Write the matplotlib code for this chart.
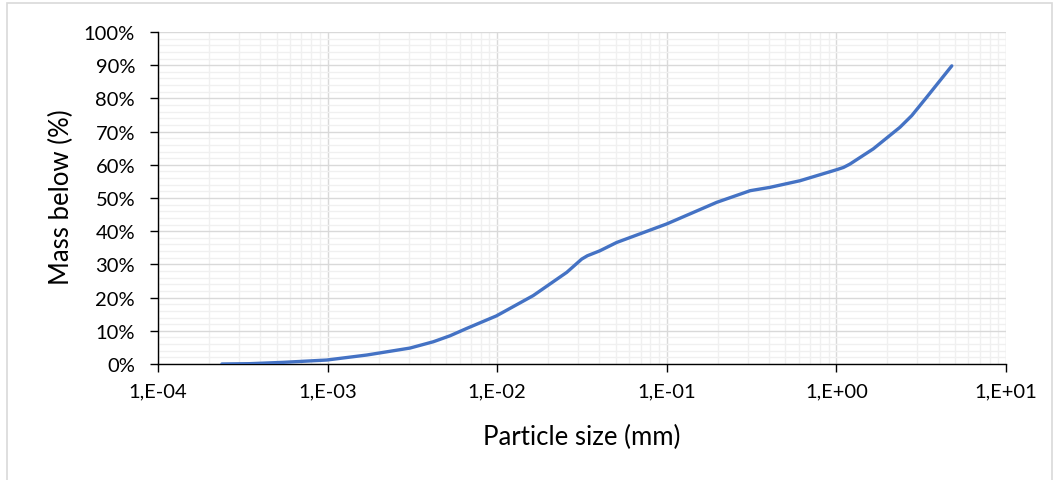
import matplotlib.pyplot as plt
import matplotlib.ticker as tck
from matplotlib.patches import Rectangle
import numpy as np

# particle size distribution
size_mm = [2.38e-4, 3.48e-4, 5.48e-4, 9.9e-4, 1.7e-3, 3.06e-3, 4.2e-3, 5.27e-3,
           6.6e-3, 9.9e-3, 0.0163, 0.0257, 0.0315, 0.034, 0.0403, 0.0506, 0.1,
           0.197, 0.31, 0.405, 0.61, 1.0, 1.1, 1.2, 1.65, 2.37, 2.78, 3.40, 4.79]
mass_below = [0.0, 0.1, 0.5, 1.2, 2.7, 4.8, 6.7, 8.5,
              10.7, 14.5, 20.6, 27.6, 31.6, 32.6, 34.1, 36.6, 42.2,
              48.7, 52.2, 53.2, 55.2, 58.5, 59.2, 60.2, 64.8, 71.3, 74.8, 80.3, 89.8]

x_label = 'Particle size (mm)'
y_label = 'Mass below (%)'

plt.rcParams['font.family'] = ['Lato', 'DejaVu Sans']

W, H = 1058, 481
fig = plt.figure(figsize=(W / 100, H / 100), dpi=100)
ax = fig.add_axes([158 / W, 1 - 365 / H, 848 / W, 332 / H])

ax.plot(size_mm, mass_below, color='#4472C4', lw=2.4, solid_capstyle='round', zorder=3)

ax.set_xscale('log')
ax.set_xlim(1e-4, 1e1)
ax.set_ylim(0, 100)

ax.xaxis.set_major_locator(tck.LogLocator(base=10, numticks=10))
ax.xaxis.set_minor_locator(tck.LogLocator(base=10, subs=np.arange(2, 10), numticks=20))
ax.xaxis.set_major_formatter(tck.FuncFormatter(lambda v, p: '1,E{:+03d}'.format(int(round(np.log10(v))))))
ax.xaxis.set_minor_formatter(tck.NullFormatter())
ax.yaxis.set_major_locator(tck.MultipleLocator(10))
ax.yaxis.set_minor_locator(tck.MultipleLocator(2))
ax.yaxis.set_major_formatter(tck.FuncFormatter(lambda v, p: '{:d}%'.format(int(round(v)))))

ax.grid(which='major', color='#d9d9d9', lw=1.0, zorder=1)
ax.grid(which='minor', color='#f0f0f0', lw=1.0, zorder=0)
ax.set_axisbelow(True)

for s in ['top', 'right']:
    ax.spines[s].set_visible(False)
for s in ['left', 'bottom']:
    ax.spines[s].set_color('black')
    ax.spines[s].set_linewidth(1.0)

ax.tick_params(which='major', direction='out', length=5.5, width=1.0, color='black',
               labelsize=14.5)
ax.tick_params(axis='x', which='major', pad=8)
ax.tick_params(axis='y', which='major', pad=11)
ax.tick_params(which='minor', length=0)

# axis titles placed at the reference pixel positions
fig.text(582 / W, 1 - 437 / H, x_label, fontsize=18.5, ha='center', va='center')
fig.text(61 / W, 1 - 197 / H, y_label, fontsize=18.5, ha='center', va='center',
         rotation=90)

# light chart frame
fig.patches.append(Rectangle((7 / W, -0.05), 1045 / W, 1.05 - 4 / H,
                             transform=fig.transFigure, fill=False,
                             edgecolor='#d9d9d9', lw=1.2))

fig.savefig('out.png', dpi=100)
